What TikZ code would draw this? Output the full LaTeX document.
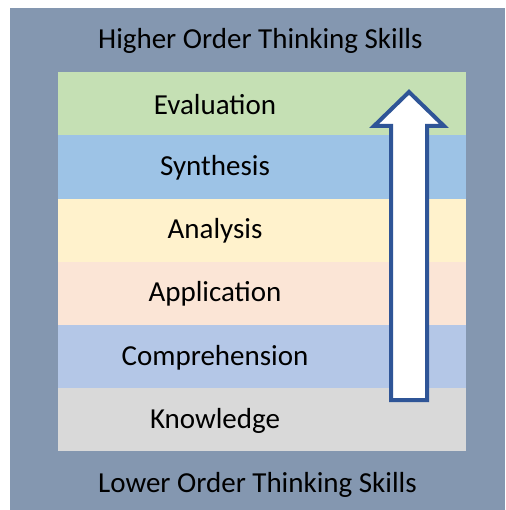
\documentclass[tikz,border=0pt]{standalone}
\usepackage{fontspec}
\setmainfont{Carlito}

\definecolor{framegrey}{HTML}{8497B0}
\definecolor{evalgreen}{HTML}{C5E0B4}
\definecolor{synthblue}{HTML}{9DC3E6}
\definecolor{analyellow}{HTML}{FFF2CC}
\definecolor{applpeach}{HTML}{FBE5D6}
\definecolor{comprblue}{HTML}{B4C7E7}
\definecolor{knowgrey}{HTML}{D9D9D9}
\definecolor{arrowblue}{HTML}{2F5597}

\begin{document}
\begin{tikzpicture}[x=1pt, y=-1pt,
    every node/.style={
        inner sep=0pt,
        font=\fontsize{29}{32}\selectfont},
    layer/.style={
        minimum width=408pt,
        minimum height=63.2pt,
        anchor=north west}]

    \useasboundingbox (0,0) rectangle (505,510);
    \fill[framegrey] (10,8) rectangle (505,510);

    \node[layer, fill=evalgreen]  (Eval)  at (58,72) {};
    \node[layer, fill=synthblue]  (Synth) at (58,135.2) {};
    \node[layer, fill=analyellow] (Anal)  at (58,198.4) {};
    \node[layer, fill=applpeach]  (Appl)  at (58,261.6) {};
    \node[layer, fill=comprblue]  (Compr) at (58,324.8) {};
    \node[layer, fill=knowgrey]   (Know)  at (58,388) {};

    \node (EvalT)  at (215,105) {Evaluation};
    \node (SynthT) at (215,168) {Synthesis};
    \node (AnalT)  at (215,231) {Analysis};
    \node (ApplT)  at (215,294) {Application};
    \node (ComprT) at (215,358) {Comprehension};
    \node (KnowT)  at (215,421) {Knowledge};

    \node[anchor=west] (High) at (98,41) {Higher Order Thinking Skills};
    \node[anchor=west] (Low)  at (98,485) {Lower Order Thinking Skills};

    \draw[arrowblue, fill=white, line width=4pt, line join=miter]
        (391,400) -- (391,126) -- (374,126) -- (409,92)
        -- (444,126) -- (427,126) -- (427,400) -- cycle;
\end{tikzpicture}
\end{document}
